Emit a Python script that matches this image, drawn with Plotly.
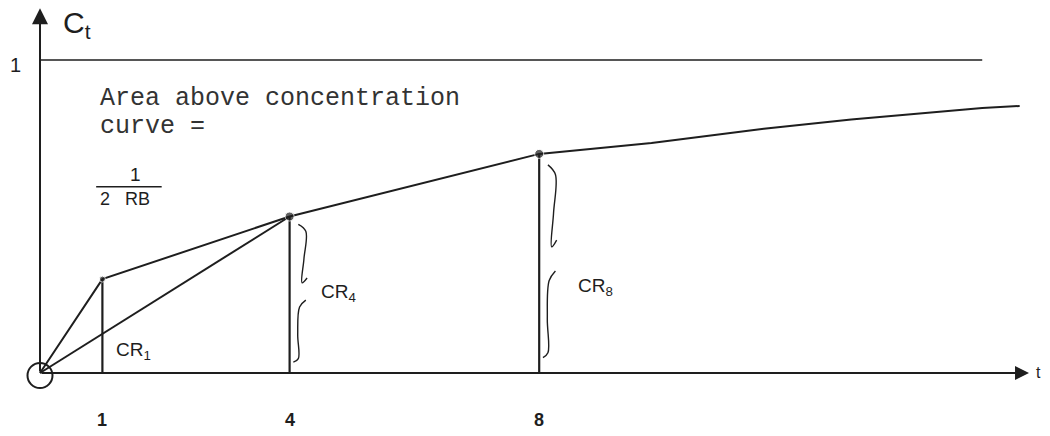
import plotly.graph_objects as go

# sample times and concentration ratios
sample_t = [1, 4, 8]
cr_values = [0.30, 0.50, 0.70]
cr_names = ["CR<sub>1</sub>", "CR<sub>4</sub>", "CR<sub>8</sub>"]
tick_labels = ["1", "4", "8"]

# tail of the concentration curve beyond t = 8
tail_t = [9.8, 11.6, 13.0, 15.1, 15.7]
tail_c = [0.735, 0.78, 0.81, 0.847, 0.853]

upper_level = 1.0
upper_end = 15.1

INK = "#1e1e1e"
MONO = "Liberation Mono, Courier New, monospace"
SANS = "Liberation Sans, Arial, sans-serif"

fig = go.Figure()

# concentration curve through the sampled points
curve_x = [0] + sample_t + tail_t
curve_y = [0] + cr_values + tail_c
fig.add_trace(go.Scatter(x=curve_x, y=curve_y, mode="lines",
                         line=dict(color=INK, width=2)))

# chord from origin to t = 4
fig.add_trace(go.Scatter(x=[0, sample_t[1]], y=[0, cr_values[1]], mode="lines",
                         line=dict(color=INK, width=2)))

# vertical drops at sample times
vx, vy = [], []
for t, c in zip(sample_t, cr_values):
    vx += [t, t, None]
    vy += [0, c, None]
fig.add_trace(go.Scatter(x=vx, y=vy, mode="lines", line=dict(color=INK, width=2.2)))

# sample dots
fig.add_trace(go.Scatter(x=sample_t, y=cr_values, mode="markers",
                         marker=dict(color=INK, size=[6, 9, 9])))

# upper asymptote at C = 1
fig.add_trace(go.Scatter(x=[0, upper_end], y=[upper_level, upper_level], mode="lines",
                         line=dict(color=INK, width=1.4)))

# circle at origin
fig.add_trace(go.Scatter(x=[0], y=[-0.008], mode="markers",
                         marker=dict(size=25, color="rgba(0,0,0,0)",
                                     line=dict(color=INK, width=2))))

# curly braces beside the CR4 and CR8 drops (upper and lower halves)
for t, c in zip(sample_t[1:], cr_values[1:]):
    top, bot = c * 0.95, c * 0.07
    mid = (top + bot) / 2
    span_up = top - mid
    span_lo = mid - bot
    bx = t + 0.18
    fig.add_trace(go.Scatter(
        x=[bx - 0.04, bx + 0.08, bx + 0.05, bx + 0.02, bx + 0.1],
        y=[top, top - span_up * 0.1, top - span_up * 0.5, top - span_up * 0.85,
           top - span_up * 0.78],
        mode="lines", line=dict(color=INK, width=1.4, shape="spline")))
    fig.add_trace(go.Scatter(
        x=[bx + 0.08, bx - 0.02, bx - 0.05, bx - 0.04, bx - 0.12],
        y=[mid - span_lo * 0.1, mid - span_lo * 0.2, mid - span_lo * 0.6,
           bot + span_lo * 0.05, bot],
        mode="lines", line=dict(color=INK, width=1.4, shape="spline")))

# axes with arrowheads
fig.add_annotation(x=0, y=1.165, ax=0, ay=0, axref="x", ayref="y", xref="x", yref="y",
                   text="", showarrow=True, arrowhead=2, arrowsize=1.6, arrowwidth=2,
                   arrowcolor=INK, standoff=0)
fig.add_annotation(x=15.85, y=0, ax=0, ay=0, axref="x", ayref="y", xref="x", yref="y",
                   text="", showarrow=True, arrowhead=2, arrowsize=1.4, arrowwidth=2,
                   arrowcolor=INK, standoff=0)

# axis labels
fig.add_annotation(x=0.6, y=1.115, text="C<sub>t</sub>", showarrow=False,
                   font=dict(family=SANS, size=30, color=INK))
fig.add_annotation(x=-0.4, y=0.985, text="1", showarrow=False,
                   font=dict(family=SANS, size=20, color=INK))
fig.add_annotation(x=16.0, y=0, text="t", showarrow=False,
                   font=dict(family=SANS, size=16, color=INK))

for t, lab in zip(sample_t, tick_labels):
    fig.add_annotation(x=t, y=-0.15, text="<b>" + lab + "</b>", showarrow=False,
                       font=dict(family=SANS, size=18, color=INK))

# CR labels
cr_pos = [(1.5, 0.07), (4.78, 0.255), (8.9, 0.275)]
for (px, py), name in zip(cr_pos, cr_names):
    fig.add_annotation(x=px, y=py, text=name, showarrow=False,
                       font=dict(family=SANS, size=19, color=INK))

# explanatory note
fig.add_annotation(x=0.93, y=0.878, text="Area above concentration", showarrow=False,
                   xanchor="left", font=dict(family=MONO, size=25, color="#333333"))
fig.add_annotation(x=0.93, y=0.788, text="curve =", showarrow=False,
                   xanchor="left", font=dict(family=MONO, size=25, color="#333333"))
fig.add_annotation(x=1.53, y=0.635, text="1", showarrow=False,
                   font=dict(family=SANS, size=19, color=INK))
fig.add_annotation(x=0.93, y=0.555, text="2&nbsp;&nbsp;&nbsp;RB", showarrow=False,
                   xanchor="left", font=dict(family=SANS, size=18, color=INK))
fig.add_shape(type="line", x0=0.9, x1=1.95, y0=0.595, y1=0.595,
              line=dict(color=INK, width=1.5))

fig.update_layout(
    width=1050, height=436,
    margin=dict(l=0, r=0, t=0, b=0),
    paper_bgcolor="white", plot_bgcolor="white",
    showlegend=False,
    xaxis=dict(range=[-0.641, 16.186], visible=False),
    yaxis=dict(range=[-0.2013, 1.1917], visible=False),
)

fig.write_html("out.html", config={"displayModeBar": False},
               post_script="document.body.style.margin='0';")
